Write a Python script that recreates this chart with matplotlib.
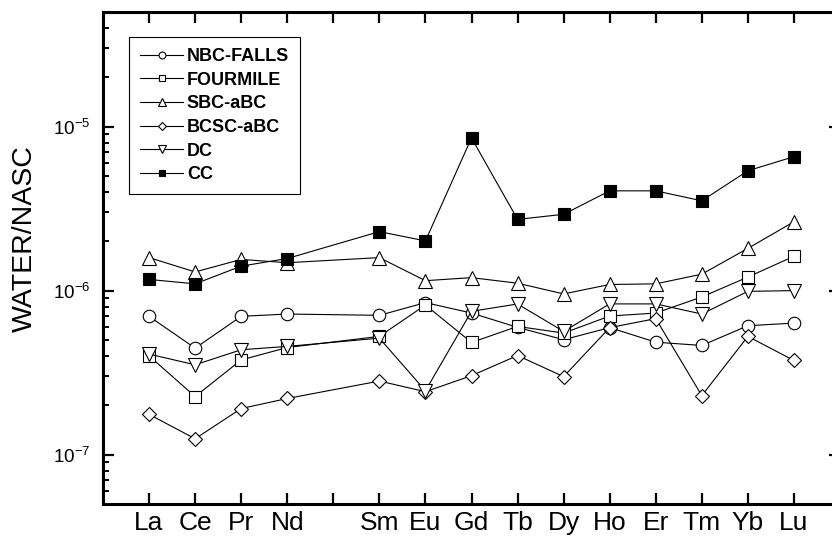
import numpy as np
import matplotlib
matplotlib.use('Agg')
import matplotlib.pyplot as plt
from matplotlib.ticker import LogLocator, NullFormatter, FixedLocator

plt.rcParams['font.family'] = ['Liberation Sans', 'DejaVu Sans']
plt.rcParams['mathtext.fontset'] = 'custom'
plt.rcParams['mathtext.rm'] = 'Liberation Sans'
plt.rcParams['mathtext.it'] = 'Liberation Sans:italic'
plt.rcParams['mathtext.bf'] = 'Liberation Sans:bold'
plt.rcParams['mathtext.default'] = 'regular'
plt.rcParams['axes.unicode_minus'] = False

# --- data (normalised to NASC) ---
ree_axis = ['La', 'Ce', 'Pr', 'Nd', '', 'Sm', 'Eu', 'Gd', 'Tb', 'Dy', 'Ho', 'Er', 'Tm', 'Yb', 'Lu']
ree = ['La', 'Ce', 'Pr', 'Nd', 'Sm', 'Eu', 'Gd', 'Tb', 'Dy', 'Ho', 'Er', 'Tm', 'Yb', 'Lu']

nbc_falls = [6.97e-7, 4.46e-7, 6.97e-7, 7.20e-7, 7.07e-7, 8.45e-7, 7.30e-7,
             5.97e-7, 5.02e-7, 5.95e-7, 4.85e-7, 4.63e-7, 6.11e-7, 6.34e-7]
fourmile = [4.00e-7, 2.26e-7, 3.78e-7, 4.50e-7, 5.26e-7, 8.17e-7, 4.83e-7,
            6.05e-7, 5.51e-7, 7.00e-7, 7.30e-7, 9.15e-7, 1.21e-6, 1.62e-6]
sbc_abc = [1.59e-6, 1.30e-6, 1.55e-6, 1.48e-6, 1.59e-6, 1.15e-6, 1.20e-6,
           1.11e-6, 9.55e-7, 1.09e-6, 1.10e-6, 1.26e-6, 1.81e-6, 2.63e-6]
bcsc_abc = [1.76e-7, 1.25e-7, 1.91e-7, 2.20e-7, 2.81e-7, 2.42e-7, 3.03e-7,
            4.02e-7, 2.99e-7, 5.95e-7, 6.75e-7, 2.29e-7, 5.26e-7, 3.75e-7]
dc = [4.10e-7, 3.53e-7, 4.36e-7, 4.57e-7, 5.13e-7, 2.45e-7, 7.48e-7,
      8.29e-7, 5.64e-7, 8.30e-7, 8.30e-7, 7.20e-7, 9.90e-7, 1.00e-6]
cc = [1.17e-6, 1.10e-6, 1.41e-6, 1.57e-6, 2.29e-6, 2.01e-6, 8.53e-6,
      2.72e-6, 2.92e-6, 4.06e-6, 4.06e-6, 3.53e-6, 5.38e-6, 6.56e-6]

xpos = [ree_axis.index(e) + 1 for e in ree]

fig = plt.figure(figsize=(8.32, 5.39), dpi=100)
ax = fig.add_axes([103 / 832, 35 / 539, 737 / 832, 492 / 539])

series = [
    ('NBC-FALLS', nbc_falls, 'o', 'white', 9),
    ('FOURMILE', fourmile, 's', 'white', 8),
    ('SBC-aBC', sbc_abc, '^', 'white', 9.5),
    ('BCSC-aBC', bcsc_abc, 'D', 'white', 7.5),
    ('DC', dc, 'v', 'white', 9.5),
    ('CC', cc, 's', 'black', 8),
]
for name, vals, mk, fc, ms in series:
    ax.plot(xpos, vals, color='black', lw=0.8, marker=mk, ms=ms,
            mfc=fc, mec='black', mew=0.8, label=name)

ax.set_yscale('log')
ax.set_ylim(5e-8, 5e-5)
ax.set_xlim(0, 16)

ax.xaxis.set_major_locator(FixedLocator(range(1, 16)))
ax.set_xticklabels(ree_axis, fontsize=19)
ax.yaxis.set_major_locator(LogLocator(base=10))
ax.yaxis.set_minor_locator(LogLocator(base=10, subs=np.arange(2, 10)))
ax.yaxis.set_minor_formatter(NullFormatter())

for s in ax.spines.values():
    s.set_linewidth(2.2)
ax.tick_params(axis='both', which='major', direction='in', length=8, width=1.6,
               top=True, right=True)
ax.tick_params(axis='y', which='minor', direction='in', length=4.5, width=1.4,
               right=True)
ax.tick_params(axis='y', which='major', labelsize=13.5, pad=9)
ax.tick_params(axis='x', which='major', pad=5)

fig.text(25 / 832, 1 - 239 / 539, 'WATER/NASC', rotation=90, fontsize=20.5,
         ha='center', va='center')

leg = ax.legend(loc='upper left', bbox_to_anchor=((129 - 103) / 737, (504 - 37) / 492),
                prop={'weight': 'bold', 'size': 13}, frameon=True, fancybox=False,
                edgecolor='black', framealpha=1, markerscale=0.55,
                handlelength=2.4, handletextpad=0.2, labelspacing=0.37,
                borderpad=0.6, borderaxespad=0)
leg.get_frame().set_linewidth(0.8)

fig.savefig('out.png', dpi=100)
